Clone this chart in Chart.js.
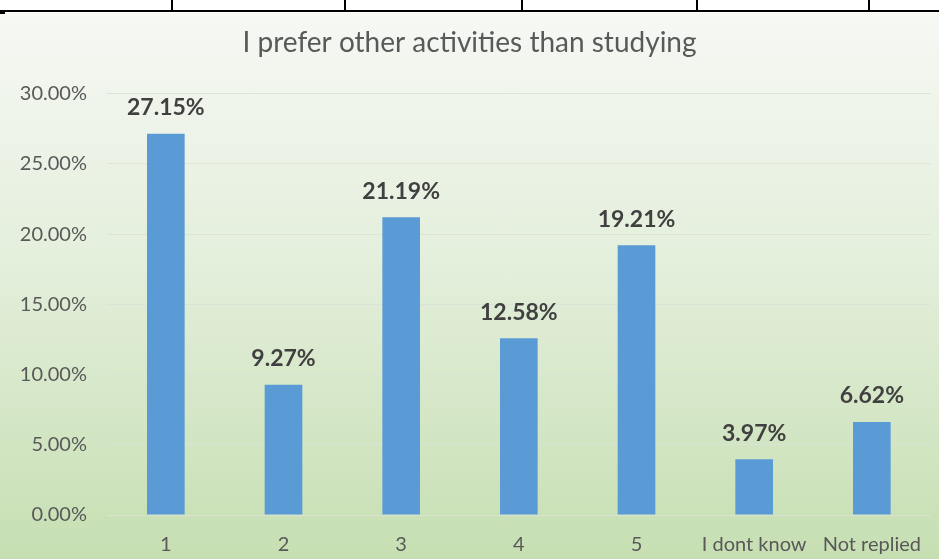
<!DOCTYPE html>
<html>
<head>
<meta charset="utf-8">
<script src="https://cdn.jsdelivr.net/npm/chart.js@4/dist/chart.umd.min.js"></script>
<style>
  html, body { margin: 0; padding: 0; background: #fff; }
  #wrap { position: relative; width: 939px; height: 559px; overflow: hidden; }
  #bg { position: absolute; left: 0; top: 13px; width: 939px; height: 546px;
        background: linear-gradient(to bottom, #f6f8f4 0%, #e4efdc 45%, #c6dfb2 100%); }
  .hline { position: absolute; left: 0; top: 10px; width: 939px; height: 2px; background: #000; }
  .vline { position: absolute; top: 0; width: 2px; height: 11px; background: #000; }
  canvas { position: absolute; left: 0; top: 0; }
</style>
</head>
<body>
<div id="wrap">
  <div id="bg"></div>
  <div class="hline"></div>
  <div class="vline" style="left:171px"></div>
  <div class="vline" style="left:344px"></div>
  <div class="vline" style="left:521px"></div>
  <div class="vline" style="left:696px"></div>
  <div class="vline" style="left:868px"></div>
  <div style="position:absolute;left:0;top:12px;width:5px;height:2px;background:#000"></div>
  <canvas id="chart" width="939" height="559"></canvas>
</div>
<script>
// chart data
const categories = ['1', '2', '3', '4', '5', 'I dont know', 'Not replied'];
const percentages = [27.15, 9.27, 21.19, 12.58, 19.21, 3.97, 6.62];
const yTicks = [0, 5, 10, 15, 20, 25, 30];

const FONT = 'Lato, "Open Sans", sans-serif';

// draws the value above each bar
const barLabels = {
  id: 'barLabels',
  afterDatasetsDraw(chart) {
    const ctx = chart.ctx;
    const meta = chart.getDatasetMeta(0);
    ctx.save();
    ctx.font = 'bold 23px ' + FONT;
    ctx.fillStyle = '#404040';
    ctx.textAlign = 'center';
    ctx.textBaseline = 'middle';
    meta.data.forEach((bar, i) => {
      ctx.fillText(percentages[i].toFixed(2) + '%', bar.x, bar.y - 26);
    });
    ctx.restore();
  }
};

new Chart(document.getElementById('chart').getContext('2d'), {
  type: 'bar',
  data: {
    labels: categories,
    datasets: [{
      data: percentages,
      backgroundColor: '#5b9bd5',
      barPercentage: 0.32,
      categoryPercentage: 1.0,
    }],
  },
  options: {
    responsive: false,
    animation: false,
    layout: { padding: { left: 0, right: 0, top: 13, bottom: 2 } },
    plugins: {
      legend: { display: false },
      tooltip: { enabled: false },
      title: {
        display: true,
        text: 'I prefer other activities than studying',
        color: '#595959',
        font: { family: FONT, size: 28, weight: 'normal' },
        padding: { top: 13, bottom: 34 },
      },
    },
    scales: {
      x: {
        afterFit(scale) { scale.height = 42; },
        grid: { display: false, drawTicks: false },
        border: { display: false },
        ticks: {
          color: '#595959',
          font: { family: FONT, size: 20 },
          padding: 18,
          autoSkip: false,
          maxRotation: 0,
        },
      },
      y: {
        min: 0,
        max: 30,
        afterBuildTicks(scale) {
          scale.ticks = yTicks.map(v => ({ value: v }));
        },
        afterFit(scale) { scale.width = 107; },
        grid: { color: 'rgba(220,226,214,0.9)', drawTicks: false },
        border: { display: false },
        ticks: {
          color: '#595959',
          font: { family: FONT, size: 20 },
          padding: 20,
          callback: v => v.toFixed(2) + '%',
        },
      },
    },
  },
  plugins: [barLabels],
});
</script>
</body>
</html>
